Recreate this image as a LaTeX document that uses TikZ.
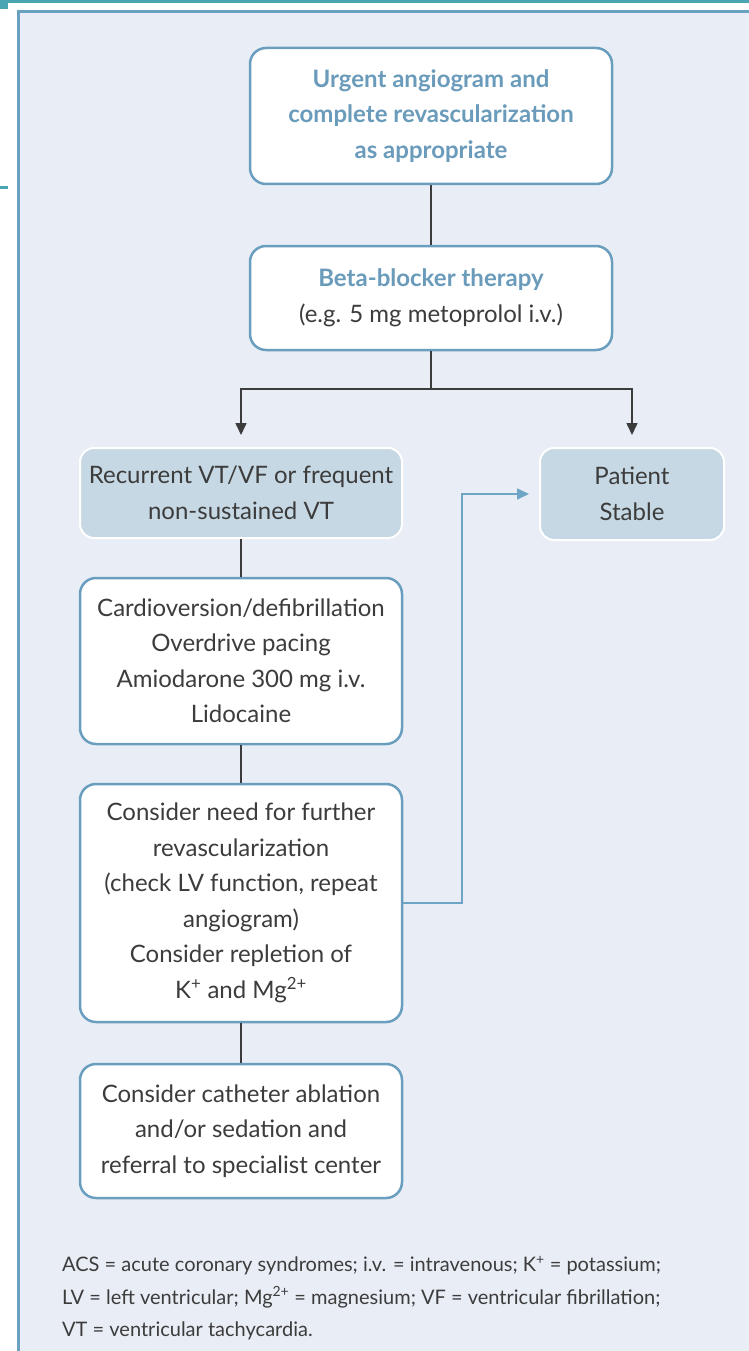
\documentclass[tikz,border=0pt]{standalone}
\usepackage{fontspec}
\setmainfont{Lato}
\usetikzlibrary{arrows.meta}
\definecolor{panelbg}{HTML}{E9EEF6}
\definecolor{panelline}{HTML}{6AA0C0}
\definecolor{topteal}{HTML}{4AA5B2}
\definecolor{boxline}{HTML}{6A9EBF}
\definecolor{headtext}{HTML}{6A9BBB}
\definecolor{bodytext}{HTML}{3C3C3C}
\definecolor{shade}{HTML}{C6D8E3}
\definecolor{linkblue}{HTML}{6FA5C4}
\tikzset{
  boxtext/.style={text=bodytext, align=center, inner sep=0pt,
    font=\fontsize{24}{35.5}\selectfont},
  whitebox/.style={boxtext, draw=boxline, line width=2.5pt, fill=white,
    rounded corners=16pt},
  shadebox/.style={boxtext, draw=white, line width=2pt, fill=shade,
    rounded corners=14pt},
}
\begin{document}
\begin{tikzpicture}[x=1pt,y=-1pt]
  \useasboundingbox (0,0) rectangle (749,1351);
  % frame
  \fill[topteal] (8,0) rectangle (749,3);
  \fill[topteal] (0,0) rectangle (8,9);
  \fill[topteal] (0,186) rectangle (8,189);
  \draw[panelline, line width=3pt, fill=panelbg] (18,12) rectangle (770,1370);
  % boxes
  \node[whitebox, minimum width=362pt, minimum height=136pt] (angio) at (431,116)
    {\color{headtext}\bfseries Urgent angiogram and\\
     \color{headtext}\bfseries complete revascularization\\
     \color{headtext}\bfseries as appropriate};
  \node[whitebox, minimum width=362pt, minimum height=104pt] (beta) at (431,298)
    {\color{headtext}\bfseries Beta-blocker therapy\\(e.g. 5 mg metoprolol i.v.)};
  \node[shadebox, minimum width=322pt, minimum height=90pt] (recur) at (241,493)
    {Recurrent VT/VF or frequent\\non-sustained VT};
  \node[shadebox, minimum width=184pt, minimum height=92pt] (stable) at (632,494)
    {Patient\\Stable};
  \node[whitebox, minimum width=322pt, minimum height=166pt] (cardio) at (241,661)
    {Cardioversion/defibrillation\\Overdrive pacing\\Amiodarone 300 mg i.v.\\Lidocaine};
  \node[whitebox, minimum width=322pt, minimum height=238pt] (revasc) at (241,903)
    {Consider need for further\\revascularization\\(check LV function, repeat\\angiogram)\\
     Consider repletion of\\K\textsuperscript{+} and Mg\textsuperscript{2+}};
  \node[whitebox, minimum width=322pt, minimum height=134pt] (ablate) at (241,1131)
    {Consider catheter ablation\\and/or sedation and\\referral to specialist center};
  \coordinate (split) at (431,389);
  \coordinate (bend) at (462,903);
  % key
  \node[anchor=north west, align=left, inner sep=0pt, text=bodytext,
    font=\fontsize{20}{32.5}\selectfont] (key) at (62,1256)
    {ACS = acute coronary syndromes; i.v. = intravenous; K\textsuperscript{+} = potassium;\\
     LV = left ventricular; Mg\textsuperscript{2+} = magnesium; VF = ventricular fibrillation;\\
     VT = ventricular tachycardia.};
  \begin{scope}[draw=bodytext, line width=1.6pt]
    \draw (angio) -- (beta);
    \draw (beta) -- (split);
    \draw[-{Triangle[length=12pt,width=11pt]}, shorten >=12pt]
      (split) -| (recur);
    \draw[-{Triangle[length=12pt,width=11pt]}, shorten >=12pt]
      (split) -| (stable);
    \draw (recur) -- (cardio);
    \draw (cardio) -- (revasc);
    \draw (revasc) -- (ablate);
  \end{scope}
  \draw[linkblue, line width=1.6pt, -{Triangle[length=12pt,width=11pt]}, shorten >=10pt]
    (revasc.east) -- (bend) |- (stable.west);
\end{tikzpicture}
\end{document}
